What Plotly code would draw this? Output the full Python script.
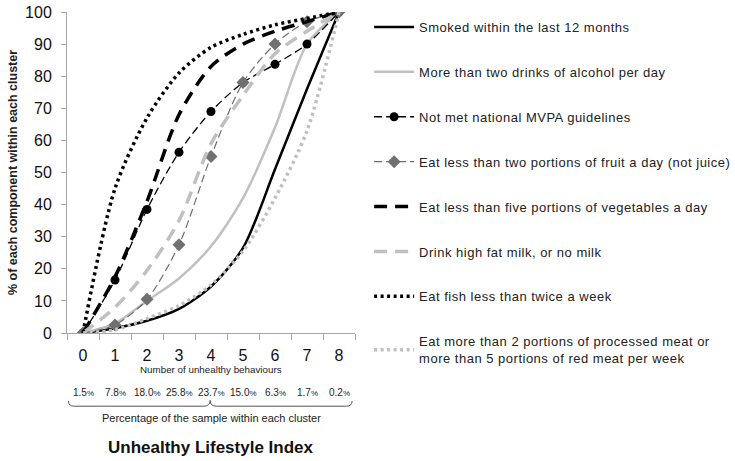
import plotly.graph_objects as go

categories = ["0", "1", "2", "3", "4", "5", "6", "7", "8"]
sample_pct = ["1.5", "7.8", "18.0", "25.8", "23.7", "15.0", "6.3", "1.7", "0.2"]

smoked = [0, 1.5, 3.8, 7.5, 14.5, 26.5, 51, 76, 100]
alcohol = [0, 3, 10, 17, 27, 42, 64, 90, 100]
mvpa = [0, 16.5, 38.5, 56.3, 69, 78, 83.7, 90, 100]
fruit = [0, 2.5, 10.5, 27.5, 55, 78, 90, 97, 100]
vegetables = [0, 17.5, 41, 68, 83, 90, 94, 97, 100]
milk = [0, 8, 19.5, 35, 59, 74, 87, 94, 100]
fish = [0, 45, 67, 81, 89, 93, 96, 98, 100]
meat = [0, 1, 4.5, 8.5, 15, 25.5, 42, 63, 100]

names = [
    "Smoked within the last 12 months",
    "More than two drinks of alcohol per day",
    "Not met national MVPA guidelines",
    "Eat less than two portions of fruit a day (not juice)",
    "Eat less than five portions of vegetables a day",
    "Drink high fat milk, or no milk",
    "Eat fish less than twice a week",
    "Eat more than 2 portions of processed meat or<br>more than 5 portions of red meat per week",
]

BLACK = "#000000"
LIGHT = "#c0c0c0"
MID = "#6e6e6e"
FONT = "Arial, Liberation Sans, sans-serif"

styles = [
    dict(values=smoked, color=BLACK, width=2.5, dash="solid", mode="lines", marker=None),
    dict(values=alcohol, color=LIGHT, width=2.5, dash="solid", mode="lines", marker=None),
    dict(values=mvpa, color=BLACK, width=1.3, dash="8px,4px", mode="lines+markers",
         marker=dict(symbol="circle", size=9, color=BLACK)),
    dict(values=fruit, color=MID, width=1.2, dash="8px,4px", mode="lines+markers",
         marker=dict(symbol="diamond", size=10, color="#707070")),
    dict(values=vegetables, color=BLACK, width=3.5, dash="13px,8px", mode="lines", marker=None),
    dict(values=milk, color=LIGHT, width=3.5, dash="13px,8px", mode="lines", marker=None),
    dict(values=fish, color=BLACK, width=3.5, dash="3px,3.5px", mode="lines", marker=None),
    dict(values=meat, color=LIGHT, width=3.5, dash="3px,3.5px", mode="lines", marker=None),
]


def spaced(t):
    return "<br>".join("<span style='letter-spacing:0.5px'>" + part + "</span>"
                       for part in t.split("<br>"))


fig = go.Figure()
for i, (nm, st) in enumerate(zip(names, styles)):
    kw = dict(
        x=categories, y=st["values"], name=spaced(nm), mode=st["mode"],
        line=dict(color=st["color"], width=st["width"], dash=st["dash"],
                  shape="spline", smoothing=0.8),
        legendgroup=f"g{i}",
    )
    if st["marker"] is not None:
        kw["marker"] = st["marker"]
    fig.add_trace(go.Scatter(**kw))

annotations = [
    dict(text="Number of unhealthy behaviours", x=0.5, y=-0.115, xref="paper", yref="paper",
         yanchor="middle", showarrow=False, font=dict(size=9.8, color="#222", family=FONT)),
    dict(text="Percentage of the sample within each cluster", x=0.5, y=-0.265, xref="paper",
         yref="paper", yanchor="middle", showarrow=False,
         font=dict(size=11, color="#222", family=FONT)),
    dict(text="<b>Unhealthy Lifestyle Index</b>", x=0.5, y=-0.358, xref="paper", yref="paper",
         yanchor="middle", showarrow=False, font=dict(size=17, color="#111", family=FONT)),
]
for c, p in zip(categories, sample_pct):
    annotations.append(dict(text=p + "<span style='font-size:8px'>%</span>", x=c, y=-0.184,
                            xref="x", yref="paper", yanchor="middle", showarrow=False,
                            font=dict(size=10, color="#222", family=FONT)))

brace = ("M 0.005,-0.212 Q 0.005,-0.228 0.025,-0.228 L 0.475,-0.228 "
         "Q 0.497,-0.228 0.497,-0.210 Q 0.497,-0.228 0.519,-0.228 "
         "L 0.97,-0.228 Q 0.99,-0.228 0.99,-0.212")

fig.update_layout(
    width=735, height=461,
    margin=dict(l=67, r=380, t=12, b=128, autoexpand=False),
    paper_bgcolor="white", plot_bgcolor="white",
    font=dict(family=FONT, color="#222"),
    showlegend=True,
    legend=dict(x=1.049, y=1.0, xanchor="left", yanchor="top",
                font=dict(size=13, color="#222", family=FONT),
                tracegroupgap=25, itemwidth=40, bgcolor="rgba(0,0,0,0)",
                maxheight=450),
    xaxis=dict(type="category", range=[-0.5, 8.5], showgrid=False, showline=True,
               linecolor="#a6a6a6", linewidth=1, ticks="outside", ticklen=6,
               tickcolor="#a6a6a6", tickson="boundaries",
               tickfont=dict(size=16, color="#111", family=FONT), ticklabelstandoff=8,
               zeroline=False),
    yaxis=dict(range=[0, 100], dtick=10, showgrid=False, showline=True,
               linecolor="#a6a6a6", linewidth=1, ticks="outside", ticklen=5,
               tickcolor="#a6a6a6", tickfont=dict(size=16, color="#111", family=FONT),
               ticklabelstandoff=6, zeroline=False, ticklabeloverflow="allow",
               title=dict(text="<b>% of each component within each cluster</b>",
                          font=dict(size=12.5, color="#222", family=FONT), standoff=4)),
    annotations=annotations,
    shapes=[dict(type="path", path=brace, xref="paper", yref="paper",
                 line=dict(color="#555", width=1))],
)

fig.write_html("out.html", config={"displayModeBar": False},
               post_script="document.body.style.margin='0';")
